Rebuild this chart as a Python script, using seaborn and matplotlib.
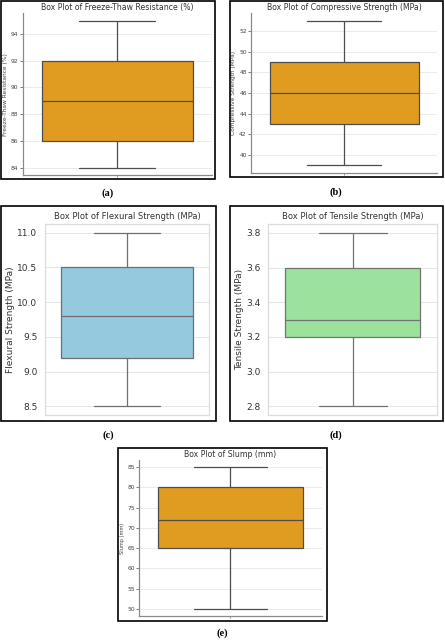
import matplotlib
matplotlib.use("Agg")
import matplotlib.pyplot as plt
from matplotlib.patches import Rectangle
import seaborn as sns
import pandas as pd

# Data (five-number summaries)
freeze_thaw = [84, 86, 89, 92, 95]
compressive = [39, 43, 46, 49, 53]
flexural = [8.5, 9.2, 9.8, 10.5, 11.0]
tensile = [2.8, 3.2, 3.3, 3.6, 3.8]
slump = [50, 65, 72, 80, 85]

titles = ["Box Plot of Freeze-Thaw Resistance (%)",
          "Box Plot of Compressive Strength (MPa)",
          "Box Plot of Flexural Strength (MPa)",
          "Box Plot of Tensile Strength (MPa)",
          "Box Plot of Slump (mm)"]
ylabels = ["Freeze-Thaw Resistance (%)", "Compressive Strength (MPa)",
           "Flexural Strength (MPa)", "Tensile Strength (MPa)", "Slump (mm)"]
colors = ["orange", "orange", "skyblue", "lightgreen", "orange"]
panel_labels = ["(a)", "(b)", "(c)", "(d)", "(e)"]

W, H = 445, 640
fig = plt.figure(figsize=(W / 100, H / 100), dpi=100)
fig.patch.set_facecolor("white")


def rect(l, t, r, b):
    return [l / W, 1 - b / H, (r - l) / W, (b - t) / H]


def frame(l, t, r, b, lw=1.2):
    fig.patches.append(Rectangle((l / W, 1 - b / H), (r - l) / W, (b - t) / H,
                                 transform=fig.transFigure, fill=False,
                                 edgecolor="black", linewidth=lw, zorder=10))


def small_panel(ax, data, title, ylabel, color, ticks):
    df = pd.DataFrame({"v": data})
    sns.boxplot(data=df, y="v", color=color, ax=ax, width=0.8, linewidth=0.9)
    ax.set_xlim(-0.5, 0.5)
    ax.set_facecolor("white")
    for s in ["top", "right"]:
        ax.spines[s].set_visible(False)
    for s in ["left", "bottom"]:
        ax.spines[s].set_visible(True)
        ax.spines[s].set_color("#8a8a8a")
        ax.spines[s].set_linewidth(0.9)
    ax.yaxis.grid(True, color="#e8e8e8", linewidth=0.6)
    ax.xaxis.grid(False)
    ax.set_axisbelow(True)
    ax.set_yticks(ticks)
    ax.set_yticklabels([str(t) for t in ticks])
    ax.set_xticks([0])
    ax.set_xticklabels([""])
    ax.tick_params(axis="y", left=True, length=2.2, width=0.6, color="#666666",
                   labelsize=4.3, labelcolor="#444444", pad=0.8)
    ax.tick_params(axis="x", bottom=True, length=1.5, width=0.5, color="#666666")
    ax.set_xlabel("")
    ax.set_ylabel(ylabel, fontsize=4.2, color="#444444", labelpad=2)
    ax.set_title(title, fontsize=5.6, color="#333333", pad=2.5)


def big_panel(ax, data, title, ylabel, color, ticks, fmt):
    df = pd.DataFrame({"v": data})
    sns.boxplot(data=df, y="v", color=color, ax=ax, width=0.8, linewidth=0.9)
    ax.set_xlim(-0.5, 0.5)
    ax.set_facecolor("white")
    for s in ax.spines.values():
        s.set_visible(True)
        s.set_color("#dddddd")
        s.set_linewidth(0.9)
    ax.yaxis.grid(True, color="#e6e6e6", linewidth=0.7)
    ax.xaxis.grid(False)
    ax.set_axisbelow(True)
    ax.set_yticks(ticks)
    ax.set_yticklabels([fmt.format(t) for t in ticks])
    ax.set_xticks([])
    ax.tick_params(axis="y", left=False, length=0, labelsize=6.5,
                   labelcolor="#333333", pad=5.5)
    ax.set_xlabel("")
    ax.set_ylabel(ylabel, fontsize=6.5, color="#333333", labelpad=1.5)
    ax.set_title(title, fontsize=6, color="#333333", pad=3.5)


sns.set_theme(style="whitegrid")
plt.rcParams['font.family'] = ['DejaVu Sans']

# (a)
ax_a = fig.add_axes(rect(22.7, 13.3, 211.7, 175))
small_panel(ax_a, freeze_thaw, titles[0], ylabels[0], colors[0], [84, 86, 88, 90, 92, 94])
frame(1, 1, 215, 179)

# (b)
ax_b = fig.add_axes(rect(251, 13.4, 437.3, 172.7))
small_panel(ax_b, compressive, titles[1], ylabels[1], colors[1], [40, 42, 44, 46, 48, 50, 52])
frame(230, 1, 443, 177)

# (c)
ax_c = fig.add_axes(rect(45, 224, 209.3, 415))
big_panel(ax_c, flexural, titles[2], ylabels[2], colors[2],
          [8.5, 9.0, 9.5, 10.0, 10.5, 11.0], "{:.1f}")
frame(1, 206, 216, 421)

# (d)
ax_d = fig.add_axes(rect(268.3, 224.3, 437.3, 415))
big_panel(ax_d, tensile, titles[3], ylabels[3], colors[3],
          [2.8, 3.0, 3.2, 3.4, 3.6, 3.8], "{:.1f}")
frame(230, 206, 443, 421)

# (e)
ax_e = fig.add_axes(rect(139.3, 460, 321.7, 616))
small_panel(ax_e, slump, titles[4], ylabels[4], colors[4], [50, 55, 60, 65, 70, 75, 80, 85])
ax_e.yaxis.label.set_size(3.6)
frame(118, 447.7, 326.7, 620.7)

# panel labels
for lab, (x, y) in zip(panel_labels, [(108, 193), (336, 192), (108, 435),
                                      (336, 435), (222, 633)]):
    fig.text(x / W, 1 - y / H, lab, ha="center", va="center",
             fontsize=7.5, fontweight="bold", family="Liberation Serif",
             color="black")

fig.savefig("out.png", dpi=100, facecolor="white")
